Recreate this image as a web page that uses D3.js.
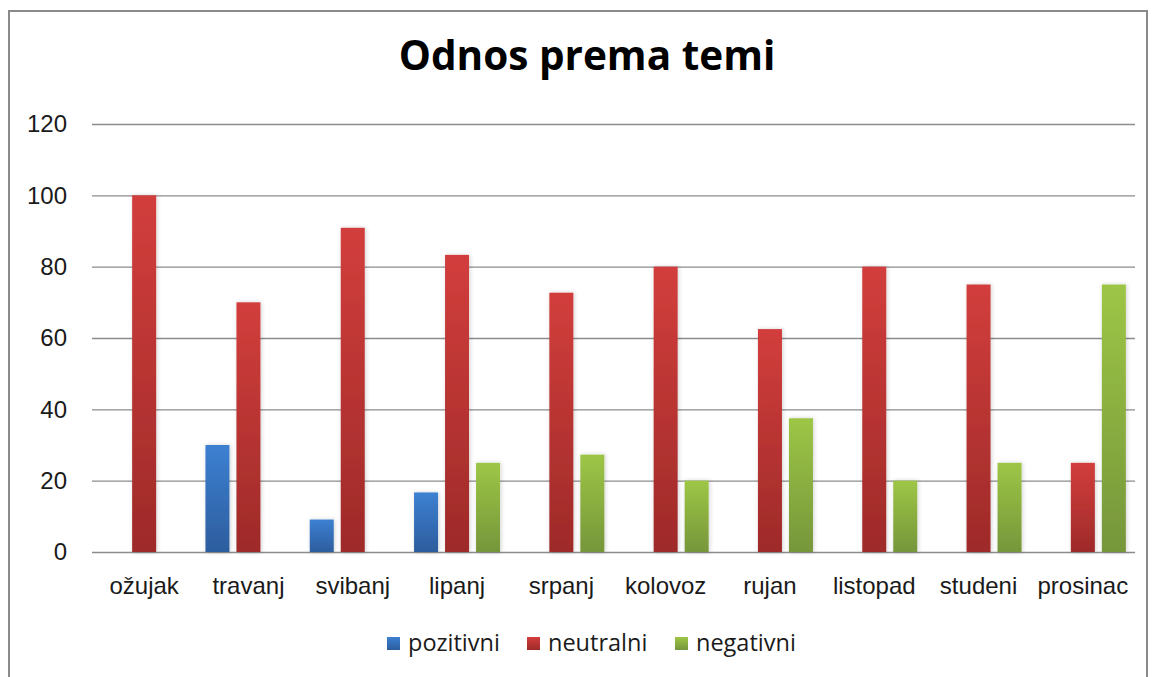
<!DOCTYPE html>
<html>
<head>
<meta charset="utf-8">
<script src="https://cdn.jsdelivr.net/npm/d3@7"></script>
<style>
  body { margin: 0; background: #fff; }
  svg { display: block; font-family: "Open Sans", sans-serif; }
</style>
</head>
<body>
<div id="chart"></div>
<script>
const months = ["ožujak", "travanj", "svibanj", "lipanj", "srpanj", "kolovoz", "rujan", "listopad", "studeni", "prosinac"];
const seriesNames = ["pozitivni", "neutralni", "negativni"];
const pozitivni = [0, 30, 9.1, 16.7, 0, 0, 0, 0, 0, 0];
const neutralni = [100, 70, 90.9, 83.3, 72.7, 80, 62.5, 80, 75, 25];
const negativni = [0, 0, 0, 25, 27.3, 20, 37.5, 20, 25, 75];
const yTicks = [0, 20, 40, 60, 80, 100, 120];

const width = 1153, height = 677;
const plot = { left: 92, right: 1135, top: 124, bottom: 552 };

const colors = {
    pozitivni: ["#3d80d2", "#2c5d9d"],
    neutralni: ["#d23e3c", "#9e2a29"],
    negativni: ["#9dc646", "#76963a"]
};

const svg = d3.select("#chart").append("svg")
    .attr("width", width)
    .attr("height", height);

function createGradients(svg) {
    const defs = svg.append("defs");
    seriesNames.forEach(name => {
        const g = defs.append("linearGradient")
            .attr("id", "grad-" + name)
            .attr("x1", "0%").attr("y1", "0%")
            .attr("x2", "0%").attr("y2", "100%");
        g.append("stop").attr("offset", "0%").attr("stop-color", colors[name][0]);
        g.append("stop").attr("offset", "100%").attr("stop-color", colors[name][1]);
    });
    const f = defs.append("filter").attr("id", "shadow")
        .attr("x", "-30%").attr("y", "-10%").attr("width", "160%").attr("height", "120%");
    f.append("feDropShadow")
        .attr("dx", 1).attr("dy", 0).attr("stdDeviation", 2)
        .attr("flood-color", "#000").attr("flood-opacity", 0.18);
}

createGradients(svg);

// frame
svg.append("rect")
    .attr("x", 9).attr("y", 11)
    .attr("width", 1138).attr("height", 680)
    .attr("fill", "none")
    .attr("stroke", "#8a8a8a")
    .attr("stroke-width", 2);

// title
svg.append("text")
    .attr("x", 587).attr("y", 70)
    .attr("text-anchor", "middle")
    .attr("font-weight", "bold")
    .attr("font-size", 40.5)
    .attr("fill", "#000")
    .text("Odnos prema temi");

const x0 = d3.scaleBand()
    .domain(months)
    .range([plot.left, plot.right])
    .paddingInner(0).paddingOuter(0);

const x1 = d3.scaleBand()
    .domain(seriesNames)
    .range([0, 86])
    .paddingInner(7 / 31).paddingOuter(0);

const y = d3.scaleLinear()
    .domain([0, 120])
    .range([plot.bottom, plot.top]);

// gridlines + y labels
svg.append("g")
    .attr("transform", `translate(${plot.left},0)`)
    .call(d3.axisLeft(y)
        .tickValues(yTicks)
        .tickSize(-(plot.right - plot.left))
        .tickPadding(25))
    .call(g => g.select(".domain").remove())
    .call(g => g.selectAll(".tick line").attr("stroke", "#8c8c8c").attr("stroke-width", 1.3))
    .call(g => g.selectAll(".tick text")
        .attr("font-size", 24)
        .attr("fill", "#1a1a1a"));

// bars
const data = months.map((m, i) => ({
    month: m,
    values: [
        { key: "pozitivni", value: pozitivni[i] },
        { key: "neutralni", value: neutralni[i] },
        { key: "negativni", value: negativni[i] }
    ]
}));

const groupOffset = (x0.bandwidth() - 86) / 2;

svg.append("g")
    .selectAll("g")
    .data(data)
    .join("g")
    .attr("transform", d => `translate(${x0(d.month) + groupOffset},0)`)
    .selectAll("rect")
    .data(d => d.values.filter(v => v.value > 0))
    .join("rect")
    .attr("x", d => x1(d.key))
    .attr("y", d => y(d.value))
    .attr("width", x1.bandwidth())
    .attr("height", d => y(0) - y(d.value))
    .attr("fill", d => `url(#grad-${d.key})`)
    .attr("filter", "url(#shadow)");

// x labels
svg.append("g")
    .attr("transform", `translate(0,${plot.bottom})`)
    .call(d3.axisBottom(x0).tickSize(0).tickPadding(25))
    .call(g => g.select(".domain").remove())
    .call(g => g.selectAll(".tick text")
        .attr("font-size", 24)
        .attr("fill", "#1a1a1a"));

// legend
const legendX = [387, 527, 675];
const legend = svg.append("g");
seriesNames.forEach((name, i) => {
    legend.append("rect")
        .attr("x", legendX[i]).attr("y", 637)
        .attr("width", 13).attr("height", 13)
        .attr("fill", `url(#grad-${name})`);
    legend.append("text")
        .attr("x", legendX[i] + 21).attr("y", 651)
        .attr("font-size", 23.5)
        .attr("fill", "#1a1a1a")
        .text(name);
});
</script>
</body>
</html>
